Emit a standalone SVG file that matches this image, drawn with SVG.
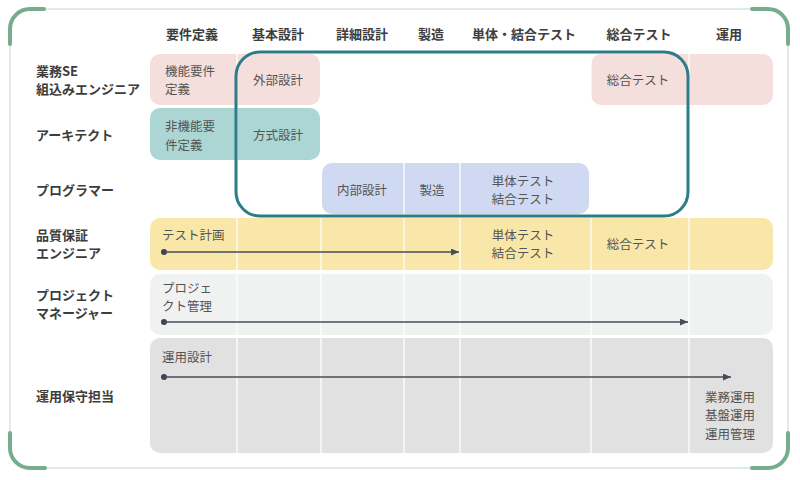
<svg xmlns="http://www.w3.org/2000/svg" width="800" height="480" viewBox="0 0 800 480">
<style>
text{font-family:"Noto Sans CJK JP","Noto Sans",sans-serif;}
.hd{font-size:13px;font-weight:700;fill:#3d3d3d;text-anchor:middle;}
.rl{font-size:13px;font-weight:700;fill:#3d3d3d;}
.ct{font-size:12.5px;fill:#555;}
.cm{font-size:12.5px;fill:#555;text-anchor:middle;}
.br{fill:none;stroke:#77ad8e;stroke-width:4;stroke-linecap:round;}
.grid{stroke:#ffffff;stroke-width:1.5;opacity:0.85;}
.arr{stroke:#474d5a;stroke-width:1.5;fill:none;marker-end:url(#ah);}
.dot{fill:#3b4252;}
</style>
<defs>
<marker id="ah" markerWidth="9" markerHeight="8" refX="8" refY="3.5" orient="auto" markerUnits="userSpaceOnUse">
<path d="M0,0 L8,3.5 L0,7 z" fill="#474d5a"/>
</marker>
</defs>
<rect x="0" y="0" width="800" height="480" fill="#ffffff"/>
<g id="frame">
<rect x="10" y="9" width="778" height="459" rx="20" fill="#ffffff" stroke="#d3e6da" stroke-width="1.5"/>
<path class="br" d="M10,44 V29 A20,20 0 0 1 30,9 H44"/>
<path class="br" d="M752,9 H768 A20,20 0 0 1 788,29 V44"/>
<path class="br" d="M788,433 V448 A20,20 0 0 1 768,468 H752"/>
<path class="br" d="M10,433 V448 A20,20 0 0 0 30,468 H45"/>
</g>
<g id="headers">
<text class="hd" x="192" y="39">要件定義</text>
<text class="hd" x="278" y="39">基本設計</text>
<text class="hd" x="362" y="39">詳細設計</text>
<text class="hd" x="431" y="39">製造</text>
<text class="hd" x="524" y="39">単体・結合テスト</text>
<text class="hd" x="639" y="39">総合テスト</text>
<text class="hd" x="729" y="39">運用</text>
</g>
<g id="row-labels">
<text class="rl" x="36" y="76">業務SE</text>
<text class="rl" x="36" y="94">組込みエンジニア</text>
<text class="rl" x="36" y="140">アーキテクト</text>
<text class="rl" x="36" y="195">プログラマー</text>
<text class="rl" x="36" y="240">品質保証</text>
<text class="rl" x="36" y="258">エンジニア</text>
<text class="rl" x="36" y="300">プロジェクト</text>
<text class="rl" x="36" y="318">マネージャー</text>
<text class="rl" x="36" y="401">運用保守担当</text>
</g>
<g id="row-se">
<rect x="150" y="54" width="170" height="51" rx="10" fill="#f4dfdd"/>
<rect x="591" y="54" width="182" height="51" rx="10" fill="#f4dfdd"/>
</g>
<g id="row-arch">
<rect x="150" y="108" width="170" height="52" rx="10" fill="#abd6d4"/>
</g>
<g id="row-prog">
<rect x="322" y="163" width="267" height="51" rx="10" fill="#cfd9f1"/>
</g>
<g id="row-qa">
<rect x="150" y="218" width="623" height="52" rx="10" fill="#f8e7a8"/>
</g>
<g id="row-pm">
<rect x="150" y="274" width="623" height="61" rx="10" fill="#f0f1f1"/>
</g>
<g id="row-ops">
<rect x="150" y="338" width="623" height="115" rx="10" fill="#e1e1e1"/>
</g>
<g id="grid">
<line class="grid" x1="237" y1="54" x2="237" y2="453"/>
<line class="grid" x1="321" y1="54" x2="321" y2="453"/>
<line class="grid" x1="404" y1="54" x2="404" y2="453"/>
<line class="grid" x1="460" y1="54" x2="460" y2="453"/>
<line class="grid" x1="591" y1="54" x2="591" y2="453"/>
<line class="grid" x1="689" y1="54" x2="689" y2="453"/>
</g>
<g id="cell-texts">
<text class="ct" x="165" y="76">機能要件</text>
<text class="ct" x="165" y="94">定義</text>
<text class="cm" x="278" y="85">外部設計</text>
<text class="cm" x="638" y="85">総合テスト</text>
<text class="ct" x="165" y="131">非機能要</text>
<text class="ct" x="165" y="150">件定義</text>
<text class="cm" x="278" y="140">方式設計</text>
<text class="cm" x="362" y="195">内部設計</text>
<text class="cm" x="432" y="195">製造</text>
<text class="cm" x="523" y="186">単体テスト</text>
<text class="cm" x="523" y="204">結合テスト</text>
<text class="ct" x="162" y="240">テスト計画</text>
<text class="cm" x="523" y="240">単体テスト</text>
<text class="cm" x="523" y="258">結合テスト</text>
<text class="cm" x="638" y="249">総合テスト</text>
<text class="ct" x="162" y="293">プロジェ</text>
<text class="ct" x="162" y="311">クト管理</text>
<text class="ct" x="162" y="362">運用設計</text>
<text class="cm" x="730" y="402">業務運用</text>
<text class="cm" x="730" y="420">基盤運用</text>
<text class="cm" x="730" y="439">運用管理</text>
</g>
<g id="highlight">
<rect x="236" y="52" width="452" height="164" rx="24" fill="none" stroke="#2d7d89" stroke-width="3"/>
</g>
<g id="connectors">
<circle class="dot" cx="164" cy="252" r="3"/>
<line class="arr" x1="164" y1="252" x2="459" y2="252"/>
<circle class="dot" cx="164" cy="322" r="3"/>
<line class="arr" x1="164" y1="322" x2="688" y2="322"/>
<circle class="dot" cx="164" cy="377" r="3"/>
<line class="arr" x1="164" y1="377" x2="731" y2="377"/>
</g>
</svg>
